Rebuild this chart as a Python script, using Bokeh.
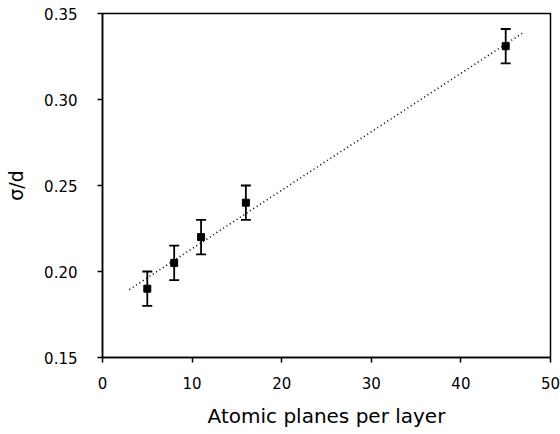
from bokeh.plotting import figure
from bokeh.models import ColumnDataSource, Whisker, FixedTicker, Range1d, TeeHead
from bokeh.embed import file_html
from bokeh.resources import INLINE

# data
layers = [5, 8, 11, 16, 45]
sigma_d = [0.190, 0.205, 0.220, 0.240, 0.331]
err = [0.010, 0.010, 0.010, 0.010, 0.010]
fit_x = [3, 47]
fit_y = [0.1895, 0.339]
x_ticks = [0, 10, 20, 30, 40, 50]
y_ticks = [0.15, 0.20, 0.25, 0.30, 0.35]
y_tick_labels = ["0.15", "0.20", "0.25", "0.30", "0.35"]

p = figure(width=560, height=434, output_backend="svg", toolbar_location=None,
           x_range=Range1d(0, 50), y_range=Range1d(0.15, 0.35),
           min_border_left=102, min_border_right=10, min_border_top=13, min_border_bottom=77)
p.frame_width = 448
p.frame_height = 344

p.grid.visible = False
p.outline_line_color = "black"
p.outline_line_width = 1.5
p.background_fill_color = "white"
p.border_fill_color = "white"

# fit line
p.line(fit_x, fit_y, line_color="black", line_width=1.6, line_dash="1 3")

lower = [v - e for v, e in zip(sigma_d, err)]
upper = [v + e for v, e in zip(sigma_d, err)]
src = ColumnDataSource(dict(x=layers, y=sigma_d, lo=lower, hi=upper))
w = Whisker(source=src, base="x", lower="lo", upper="hi", line_color="black", line_width=1.8,
            upper_head=TeeHead(size=10, line_color="black", line_width=1.8),
            lower_head=TeeHead(size=10, line_color="black", line_width=1.8))
p.add_layout(w)
p.scatter("x", "y", source=src, marker="square", size=7, fill_color="black", line_color="black")

for ax in (p.xaxis[0], p.yaxis[0]):
    ax.axis_line_width = 1.5
    ax.axis_line_color = "black"
    ax.major_tick_line_width = 1.5
    ax.major_tick_out = 5
    ax.major_tick_in = 0
    ax.minor_tick_line_color = None
    ax.major_label_text_font = "DejaVu Sans"
    ax.major_label_text_font_size = "15px"
    ax.major_label_text_color = "black"
    ax.axis_label_text_font = "DejaVu Sans"
    ax.axis_label_text_font_style = "normal"
    ax.axis_label_text_color = "black"

p.xaxis.ticker = FixedTicker(ticks=x_ticks)
p.yaxis.ticker = FixedTicker(ticks=y_ticks)
p.yaxis.major_label_overrides = {t: l for t, l in zip(y_ticks, y_tick_labels)}
p.xaxis.major_label_standoff = 14
p.yaxis.major_label_standoff = 20
p.xaxis.axis_label = "Atomic planes per layer"
p.yaxis.axis_label = "σ/d"
p.xaxis.axis_label_text_font_size = "20px"
p.yaxis.axis_label_text_font_size = "19px"
p.xaxis.axis_label_standoff = 12
p.yaxis.axis_label_standoff = 14

open("out.html", "w").write(file_html(p, INLINE))
